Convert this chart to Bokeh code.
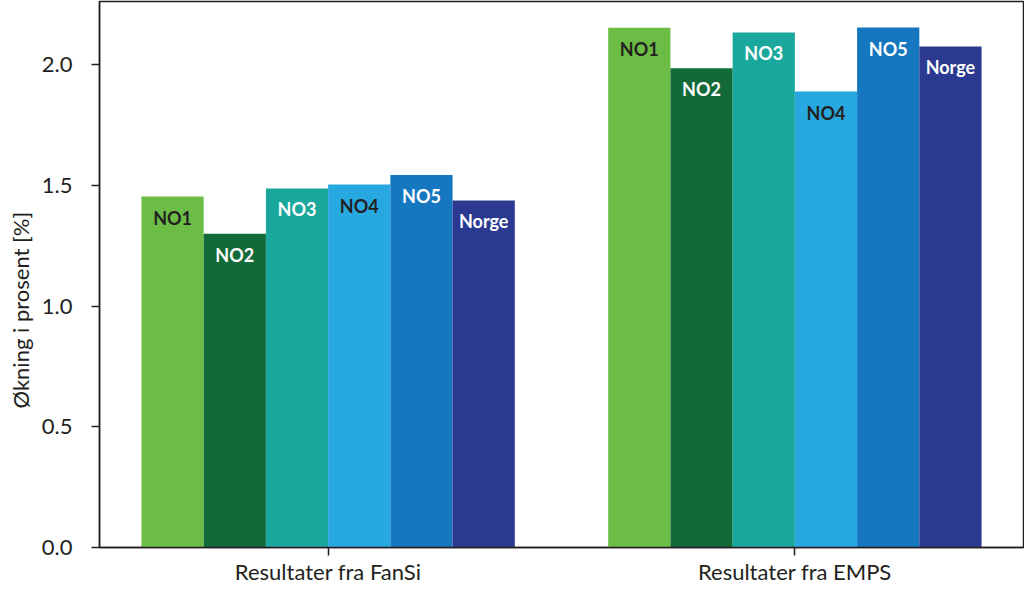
from bokeh.plotting import figure
from bokeh.models import ColumnDataSource, Range1d, FixedTicker, SingleIntervalTicker, NumeralTickFormatter, Title
from bokeh.core.properties import value
from bokeh.embed import file_html
from bokeh.resources import INLINE

groups = ["Resultater fra FanSi", "Resultater fra EMPS"]
zones = ["NO1", "NO2", "NO3", "NO4", "NO5", "Norge"]
fansi = [1.453, 1.299, 1.487, 1.503, 1.543, 1.437]
emps = [2.152, 1.985, 2.133, 1.888, 2.153, 2.075]
colors = ["#6cbd46", "#126a39", "#1ba89c", "#27a8e0", "#1577bf", "#2b3a90"]
text_colors = ["#231f20", "#ffffff", "#ffffff", "#231f20", "#ffffff", "#ffffff"]
y_label = "Økning i prosent [%]"

FONT = "Lato"
DARK = "#231f20"
FS = "22px"

group_gap = 7.5
series = [fansi, emps]

xs, tops, fills, labels, tcols = [], [], [], [], []
for gi, vals in enumerate(series):
    for zi, v in enumerate(vals):
        xs.append(gi * group_gap + zi)
        tops.append(v)
        fills.append(colors[zi])
        labels.append(zones[zi])
        tcols.append(text_colors[zi])

src = ColumnDataSource(dict(x=xs, top=tops, fill=fills, label=labels, tcol=tcols))

n = len(zones)
pad = 0.674
p = figure(width=1024, height=590, output_backend="svg", toolbar_location=None,
           x_range=Range1d(-0.5 - pad, group_gap + n - 0.5 + pad),
           y_range=Range1d(0, 2.261),
           min_border_left=98, min_border_right=1, min_border_top=1, min_border_bottom=43)

p.vbar(x="x", top="top", bottom=0, width=1.0, fill_color="fill", line_color=None, source=src)
p.text(x="x", y="top", text="label", text_color="tcol", text_font=value(FONT),
       text_font_style="bold", text_font_size="18px", text_align="center",
       text_baseline="middle", y_offset=21, source=src)

p.grid.visible = False
p.outline_line_color = DARK
p.outline_line_width = 1.5
p.outline_line_alpha = 1.0
p.background_fill_color = "white"
p.border_fill_color = "white"

centers = [gi * group_gap + (n - 1) / 2 for gi in range(len(groups))]
xa = p.xaxis[0]
xa.ticker = FixedTicker(ticks=centers)
xa.major_label_overrides = {c: g for c, g in zip(centers, groups)}
xa.minor_tick_line_color = None
xa.major_tick_out = 8
xa.major_tick_in = 0
xa.major_label_standoff = 2
xa.major_label_text_font = FONT
xa.major_label_text_font_size = FS
xa.major_label_text_color = DARK
xa.axis_line_color = DARK
xa.axis_line_width = 1.5
xa.major_tick_line_color = DARK
xa.major_tick_line_width = 1.5

ya = p.yaxis[0]
ya.ticker = SingleIntervalTicker(interval=0.5, num_minor_ticks=0)
ya.formatter = NumeralTickFormatter(format="0.0")
ya.minor_tick_line_color = None
ya.major_tick_out = 8
ya.major_tick_in = 0
ya.major_label_standoff = 19
ya.major_label_text_font = FONT
ya.major_label_text_font_size = FS
ya.major_label_text_color = DARK
ya.axis_line_color = DARK
ya.axis_line_width = 1.5
ya.major_tick_line_color = DARK
ya.major_tick_line_width = 1.5

ytitle = Title(text=y_label, align="left", offset=139, standoff=9,
               text_font=FONT, text_font_style="normal", text_font_size=FS,
               text_color=DARK)
p.add_layout(ytitle, "left")

open("out.html", "w").write(file_html(p, INLINE))
